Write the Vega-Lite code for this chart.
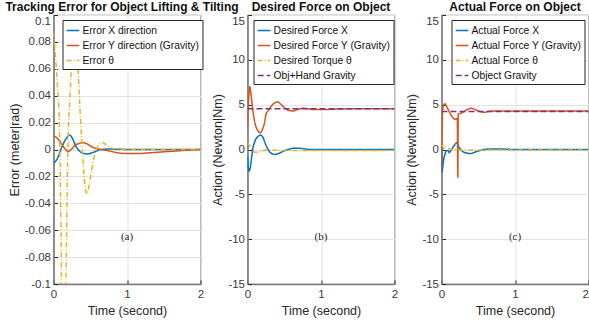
{
  "$schema": "https://vega.github.io/schema/vega-lite/v6.json",
  "background": "white",
  "padding": {"left": 4.5, "top": -1, "right": 0, "bottom": 0},
  "bounds": "flush",
  "spacing": 47,
  "config": {
    "view": {"stroke": "#7a7a7a", "strokeWidth": 1.2},
    "font": "Liberation Sans",
    "title": {"font": "Liberation Sans", "fontSize": 12, "fontWeight": "bold", "color": "#111", "offset": 1, "anchor": "middle"},
    "axis": {
      "labelFont": "Liberation Sans", "labelFontSize": 11.5, "labelColor": "#3a3a3a",
      "titleFont": "Liberation Sans", "titleFontSize": 12.5, "titleFontWeight": "normal", "titleColor": "#262626",
      "gridColor": "#e3e3e3", "gridWidth": 1, "domainColor": "#7a7a7a", "domainWidth": 1.5,
      "tickColor": "#262626", "tickSize": -4, "labelPadding": 7, "labelOverlap": false
    },
    "axisX": {"labelPadding": 8},
    "legend": {
      "labelFont": "Liberation Sans", "labelFontSize": 10.3, "labelColor": "#111",
      "symbolType": "stroke", "symbolSize": 160, "symbolStrokeWidth": 1.6,
      "strokeColor": "#262626", "fillColor": "white", "padding": 3, "rowPadding": 2, "labelOffset": 2
    }
  },
  "resolve": {"scale": {"color": "independent", "strokeDash": "independent", "y": "independent", "x": "independent"}},
  "hconcat": [
    {
      "width": 147, "height": 269,
      "title": {"text": "Tracking Error for Object Lifting & Tilting", "dx": -5},
      "layer": [
        {
          "data": {"values": [
            {"t": 0, "v": -0.0103, "s": "Error X direction"},
            {"t": 0.05, "v": -0.007, "s": "Error X direction"},
            {"t": 0.1, "v": 0.0, "s": "Error X direction"},
            {"t": 0.15, "v": 0.006, "s": "Error X direction"},
            {"t": 0.2, "v": 0.010, "s": "Error X direction"},
            {"t": 0.22, "v": 0.0108, "s": "Error X direction"},
            {"t": 0.26, "v": 0.008, "s": "Error X direction"},
            {"t": 0.3, "v": 0.003, "s": "Error X direction"},
            {"t": 0.35, "v": -0.001, "s": "Error X direction"},
            {"t": 0.4, "v": -0.0028, "s": "Error X direction"},
            {"t": 0.46, "v": -0.0033, "s": "Error X direction"},
            {"t": 0.52, "v": -0.0025, "s": "Error X direction"},
            {"t": 0.58, "v": -0.0012, "s": "Error X direction"},
            {"t": 0.64, "v": 0.0, "s": "Error X direction"},
            {"t": 0.75, "v": 0.0003, "s": "Error X direction"},
            {"t": 0.9, "v": 0.0002, "s": "Error X direction"},
            {"t": 1.0, "v": 0.0, "s": "Error X direction"},
            {"t": 2.0, "v": 0.0, "s": "Error X direction"},
            {"t": 0, "v": 0.0102, "s": "Error Y direction (Gravity)"},
            {"t": 0.05, "v": 0.0085, "s": "Error Y direction (Gravity)"},
            {"t": 0.1, "v": 0.005, "s": "Error Y direction (Gravity)"},
            {"t": 0.15, "v": 0.001, "s": "Error Y direction (Gravity)"},
            {"t": 0.2, "v": -0.0014, "s": "Error Y direction (Gravity)"},
            {"t": 0.25, "v": 0.0005, "s": "Error Y direction (Gravity)"},
            {"t": 0.3, "v": 0.0033, "s": "Error Y direction (Gravity)"},
            {"t": 0.35, "v": 0.0045, "s": "Error Y direction (Gravity)"},
            {"t": 0.41, "v": 0.005, "s": "Error Y direction (Gravity)"},
            {"t": 0.47, "v": 0.0038, "s": "Error Y direction (Gravity)"},
            {"t": 0.53, "v": 0.0017, "s": "Error Y direction (Gravity)"},
            {"t": 0.6, "v": 0.0005, "s": "Error Y direction (Gravity)"},
            {"t": 0.65, "v": 0.0, "s": "Error Y direction (Gravity)"},
            {"t": 0.75, "v": -0.001, "s": "Error Y direction (Gravity)"},
            {"t": 0.85, "v": -0.0022, "s": "Error Y direction (Gravity)"},
            {"t": 1.0, "v": -0.003, "s": "Error Y direction (Gravity)"},
            {"t": 1.15, "v": -0.003, "s": "Error Y direction (Gravity)"},
            {"t": 1.3, "v": -0.0025, "s": "Error Y direction (Gravity)"},
            {"t": 1.5, "v": -0.0017, "s": "Error Y direction (Gravity)"},
            {"t": 1.7, "v": -0.001, "s": "Error Y direction (Gravity)"},
            {"t": 1.85, "v": -0.0004, "s": "Error Y direction (Gravity)"},
            {"t": 2.0, "v": 0.0, "s": "Error Y direction (Gravity)"},
            {"t": 0, "v": 0.087, "s": "Error θ"},
            {"t": 0.02, "v": 0.075, "s": "Error θ"},
            {"t": 0.05, "v": 0.05, "s": "Error θ"},
            {"t": 0.08, "v": 0.018, "s": "Error θ"},
            {"t": 0.1, "v": -0.05, "s": "Error θ"},
            {"t": 0.115, "v": -0.12, "s": "Error θ"},
            {"t": 0.14, "v": -0.16, "s": "Error θ"},
            {"t": 0.165, "v": -0.11, "s": "Error θ"},
            {"t": 0.195, "v": 0.0, "s": "Error θ"},
            {"t": 0.23, "v": 0.045, "s": "Error θ"},
            {"t": 0.26, "v": 0.078, "s": "Error θ"},
            {"t": 0.29, "v": 0.09, "s": "Error θ"},
            {"t": 0.32, "v": 0.075, "s": "Error θ"},
            {"t": 0.354, "v": 0.037, "s": "Error θ"},
            {"t": 0.38, "v": 0.01, "s": "Error θ"},
            {"t": 0.41, "v": -0.015, "s": "Error θ"},
            {"t": 0.43, "v": -0.028, "s": "Error θ"},
            {"t": 0.455, "v": -0.033, "s": "Error θ"},
            {"t": 0.48, "v": -0.028, "s": "Error θ"},
            {"t": 0.52, "v": -0.015, "s": "Error θ"},
            {"t": 0.56, "v": -0.004, "s": "Error θ"},
            {"t": 0.6, "v": 0.002, "s": "Error θ"},
            {"t": 0.67, "v": 0.005, "s": "Error θ"},
            {"t": 0.73, "v": 0.003, "s": "Error θ"},
            {"t": 0.8, "v": 0.001, "s": "Error θ"},
            {"t": 0.9, "v": 0.0, "s": "Error θ"},
            {"t": 2.0, "v": 0.0, "s": "Error θ"}
          ]},
          "mark": {"type": "line", "clip": true, "strokeWidth": 1.5, "interpolate": "monotone"},
          "encoding": {
            "x": {"field": "t", "type": "quantitative", "scale": {"domain": [0, 2], "nice": false},
                  "axis": {"values": [0, 1, 2], "tickCount": 3, "labelExpr": "format(datum.value, '~g')", "title": "Time (second)", "titlePadding": 5, "labelFlush": false}},
            "y": {"field": "v", "type": "quantitative", "scale": {"domain": [-0.1, 0.1], "nice": false},
                  "axis": {"values": [-0.1, -0.08, -0.06, -0.04, -0.02, 0, 0.02, 0.04, 0.06, 0.08, 0.1], "tickCount": 11,
                           "labelExpr": "replace(format(datum.value, '.2~f'), '−', '-')", "labelOverlap": false,
                           "labelBaseline": {"condition": {"test": "datum.value > 0.099", "value": "top"}, "value": "middle"},
                           "title": "Error (meter|rad)", "titlePadding": 3, "labelFlush": false}},
            "color": {"field": "s", "type": "nominal",
                      "scale": {"domain": ["Error X direction", "Error Y direction (Gravity)", "Error θ"], "range": ["#0072BD", "#D95319", "#EDB120"]},
                      "legend": {"title": null, "orient": "none", "legendX": 9, "legendY": 5}},
            "strokeDash": {"field": "s", "type": "nominal",
                      "scale": {"domain": ["Error X direction", "Error Y direction (Gravity)", "Error θ"], "range": [[1, 0], [1, 0], [5, 2, 1, 2]]},
                      "legend": {"title": null, "orient": "none", "legendX": 9, "legendY": 5}}
          }
        },
        {
          "data": {"values": [{"t": 1, "v": -0.065, "label": "(a)"}]},
          "mark": {"type": "text", "font": "Liberation Serif", "fontSize": 11, "color": "#262626"},
          "encoding": {
            "x": {"field": "t", "type": "quantitative"},
            "y": {"field": "v", "type": "quantitative"},
            "text": {"field": "label"}
          }
        }
      ]
    },
    {
      "width": 147, "height": 269,
      "title": "Desired Force on Object",
      "layer": [
        {
          "data": {"values": [
            {"t": 0, "v": -0.8, "s": "Desired Force X"},
            {"t": 0.02, "v": -2.4, "s": "Desired Force X"},
            {"t": 0.035, "v": -2.1, "s": "Desired Force X"},
            {"t": 0.05, "v": -1.3, "s": "Desired Force X"},
            {"t": 0.07, "v": 0.0, "s": "Desired Force X"},
            {"t": 0.1, "v": 0.9, "s": "Desired Force X"},
            {"t": 0.14, "v": 1.45, "s": "Desired Force X"},
            {"t": 0.18, "v": 1.6, "s": "Desired Force X"},
            {"t": 0.21, "v": 1.35, "s": "Desired Force X"},
            {"t": 0.24, "v": 0.7, "s": "Desired Force X"},
            {"t": 0.28, "v": 0.0, "s": "Desired Force X"},
            {"t": 0.32, "v": -0.4, "s": "Desired Force X"},
            {"t": 0.37, "v": -0.55, "s": "Desired Force X"},
            {"t": 0.42, "v": -0.45, "s": "Desired Force X"},
            {"t": 0.5, "v": -0.15, "s": "Desired Force X"},
            {"t": 0.57, "v": 0.05, "s": "Desired Force X"},
            {"t": 0.65, "v": 0.15, "s": "Desired Force X"},
            {"t": 0.75, "v": 0.1, "s": "Desired Force X"},
            {"t": 0.85, "v": 0.0, "s": "Desired Force X"},
            {"t": 1.0, "v": 0.0, "s": "Desired Force X"},
            {"t": 2.0, "v": 0.0, "s": "Desired Force X"},
            {"t": 0, "v": 2.5, "s": "Desired Force Y (Gravity)"},
            {"t": 0.015, "v": 5.5, "s": "Desired Force Y (Gravity)"},
            {"t": 0.03, "v": 7.0, "s": "Desired Force Y (Gravity)"},
            {"t": 0.05, "v": 6.0, "s": "Desired Force Y (Gravity)"},
            {"t": 0.072, "v": 4.4, "s": "Desired Force Y (Gravity)"},
            {"t": 0.1, "v": 3.0, "s": "Desired Force Y (Gravity)"},
            {"t": 0.14, "v": 2.1, "s": "Desired Force Y (Gravity)"},
            {"t": 0.177, "v": 1.85, "s": "Desired Force Y (Gravity)"},
            {"t": 0.2, "v": 2.2, "s": "Desired Force Y (Gravity)"},
            {"t": 0.23, "v": 2.9, "s": "Desired Force Y (Gravity)"},
            {"t": 0.254, "v": 4.0, "s": "Desired Force Y (Gravity)"},
            {"t": 0.28, "v": 4.3, "s": "Desired Force Y (Gravity)"},
            {"t": 0.32, "v": 4.8, "s": "Desired Force Y (Gravity)"},
            {"t": 0.37, "v": 5.2, "s": "Desired Force Y (Gravity)"},
            {"t": 0.41, "v": 5.3, "s": "Desired Force Y (Gravity)"},
            {"t": 0.46, "v": 5.0, "s": "Desired Force Y (Gravity)"},
            {"t": 0.525, "v": 4.5, "s": "Desired Force Y (Gravity)"},
            {"t": 0.57, "v": 4.35, "s": "Desired Force Y (Gravity)"},
            {"t": 0.62, "v": 4.3, "s": "Desired Force Y (Gravity)"},
            {"t": 0.68, "v": 4.45, "s": "Desired Force Y (Gravity)"},
            {"t": 0.75, "v": 4.6, "s": "Desired Force Y (Gravity)"},
            {"t": 0.82, "v": 4.55, "s": "Desired Force Y (Gravity)"},
            {"t": 0.9, "v": 4.45, "s": "Desired Force Y (Gravity)"},
            {"t": 1.0, "v": 4.45, "s": "Desired Force Y (Gravity)"},
            {"t": 1.2, "v": 4.5, "s": "Desired Force Y (Gravity)"},
            {"t": 1.5, "v": 4.55, "s": "Desired Force Y (Gravity)"},
            {"t": 2.0, "v": 4.55, "s": "Desired Force Y (Gravity)"},
            {"t": 0, "v": 0.75, "s": "Desired Torque θ"},
            {"t": 0.03, "v": 0.4, "s": "Desired Torque θ"},
            {"t": 0.07, "v": -0.15, "s": "Desired Torque θ"},
            {"t": 0.1, "v": -0.3, "s": "Desired Torque θ"},
            {"t": 0.15, "v": -0.3, "s": "Desired Torque θ"},
            {"t": 0.2, "v": -0.15, "s": "Desired Torque θ"},
            {"t": 0.3, "v": -0.05, "s": "Desired Torque θ"},
            {"t": 0.5, "v": -0.1, "s": "Desired Torque θ"},
            {"t": 1.0, "v": -0.1, "s": "Desired Torque θ"},
            {"t": 2.0, "v": -0.1, "s": "Desired Torque θ"},
            {"t": 0, "v": 4.55, "s": "Obj+Hand Gravity"},
            {"t": 2.0, "v": 4.55, "s": "Obj+Hand Gravity"}
          ]},
          "mark": {"type": "line", "clip": true, "strokeWidth": 1.5, "interpolate": "monotone"},
          "encoding": {
            "x": {"field": "t", "type": "quantitative", "scale": {"domain": [0, 2], "nice": false},
                  "axis": {"values": [0, 1, 2], "tickCount": 3, "labelExpr": "format(datum.value, '~g')", "title": "Time (second)", "titlePadding": 5, "labelFlush": false}},
            "y": {"field": "v", "type": "quantitative", "scale": {"domain": [-15, 15], "nice": false},
                  "axis": {"values": [-15, -10, -5, 0, 5, 10, 15], "tickCount": 7,
                           "labelExpr": "replace(format(datum.value, '~g'), '−', '-')", "labelOverlap": false,
                           "labelBaseline": {"condition": {"test": "datum.value > 14", "value": "top"}, "value": "middle"},
                           "title": "Action (Newton|Nm)", "titlePadding": 3, "labelFlush": false}},
            "color": {"field": "s", "type": "nominal",
                      "scale": {"domain": ["Desired Force X", "Desired Force Y (Gravity)", "Desired Torque θ", "Obj+Hand Gravity"], "range": ["#0072BD", "#D95319", "#EDB120", "#7E2F8E"]},
                      "legend": {"title": null, "orient": "none", "legendX": 6, "legendY": 5}},
            "strokeDash": {"field": "s", "type": "nominal",
                      "scale": {"domain": ["Desired Force X", "Desired Force Y (Gravity)", "Desired Torque θ", "Obj+Hand Gravity"], "range": [[1, 0], [1, 0], [5, 2, 1, 2], [6, 3]]},
                      "legend": {"title": null, "orient": "none", "legendX": 6, "legendY": 5}}
          }
        },
        {
          "data": {"values": [{"t": 1, "v": -9.8, "label": "(b)"}]},
          "mark": {"type": "text", "font": "Liberation Serif", "fontSize": 11, "color": "#262626"},
          "encoding": {
            "x": {"field": "t", "type": "quantitative"},
            "y": {"field": "v", "type": "quantitative"},
            "text": {"field": "label"}
          }
        }
      ]
    },
    {
      "width": 147, "height": 269,
      "title": "Actual Force on Object",
      "layer": [
        {
          "data": {"values": [
            {"t": 0, "v": 0.6, "s": "Actual Force X"},
            {"t": 0.006, "v": -2.5, "s": "Actual Force X"},
            {"t": 0.027, "v": -1.25, "s": "Actual Force X"},
            {"t": 0.05, "v": -0.43, "s": "Actual Force X"},
            {"t": 0.07, "v": -0.15, "s": "Actual Force X"},
            {"t": 0.09, "v": -0.1, "s": "Actual Force X"},
            {"t": 0.105, "v": -0.35, "s": "Actual Force X"},
            {"t": 0.12, "v": -0.2, "s": "Actual Force X"},
            {"t": 0.16, "v": 0.3, "s": "Actual Force X"},
            {"t": 0.21, "v": 0.75, "s": "Actual Force X"},
            {"t": 0.235, "v": 0.3, "s": "Actual Force X"},
            {"t": 0.26, "v": 0.0, "s": "Actual Force X"},
            {"t": 0.32, "v": -0.35, "s": "Actual Force X"},
            {"t": 0.39, "v": -0.45, "s": "Actual Force X"},
            {"t": 0.47, "v": -0.25, "s": "Actual Force X"},
            {"t": 0.55, "v": -0.05, "s": "Actual Force X"},
            {"t": 0.65, "v": 0.05, "s": "Actual Force X"},
            {"t": 0.8, "v": 0.05, "s": "Actual Force X"},
            {"t": 1.0, "v": 0.0, "s": "Actual Force X"},
            {"t": 2.0, "v": 0.0, "s": "Actual Force X"},
            {"t": 0, "v": -2.3, "s": "Actual Force Y (Gravity)"},
            {"t": 0.015, "v": 4.3, "s": "Actual Force Y (Gravity)"},
            {"t": 0.03, "v": 5.0, "s": "Actual Force Y (Gravity)"},
            {"t": 0.045, "v": 5.1, "s": "Actual Force Y (Gravity)"},
            {"t": 0.07, "v": 4.8, "s": "Actual Force Y (Gravity)"},
            {"t": 0.1, "v": 4.3, "s": "Actual Force Y (Gravity)"},
            {"t": 0.14, "v": 3.7, "s": "Actual Force Y (Gravity)"},
            {"t": 0.186, "v": 3.37, "s": "Actual Force Y (Gravity)"},
            {"t": 0.215, "v": 3.45, "s": "Actual Force Y (Gravity)"},
            {"t": 0.222, "v": -3.1, "s": "Actual Force Y (Gravity)"},
            {"t": 0.228, "v": 3.95, "s": "Actual Force Y (Gravity)"},
            {"t": 0.26, "v": 4.05, "s": "Actual Force Y (Gravity)"},
            {"t": 0.3, "v": 4.2, "s": "Actual Force Y (Gravity)"},
            {"t": 0.35, "v": 4.45, "s": "Actual Force Y (Gravity)"},
            {"t": 0.41, "v": 4.6, "s": "Actual Force Y (Gravity)"},
            {"t": 0.47, "v": 4.4, "s": "Actual Force Y (Gravity)"},
            {"t": 0.52, "v": 4.25, "s": "Actual Force Y (Gravity)"},
            {"t": 0.57, "v": 4.15, "s": "Actual Force Y (Gravity)"},
            {"t": 0.65, "v": 4.25, "s": "Actual Force Y (Gravity)"},
            {"t": 0.75, "v": 4.3, "s": "Actual Force Y (Gravity)"},
            {"t": 1.0, "v": 4.3, "s": "Actual Force Y (Gravity)"},
            {"t": 2.0, "v": 4.3, "s": "Actual Force Y (Gravity)"},
            {"t": 0, "v": 0.5, "s": "Actual Force θ"},
            {"t": 0.02, "v": 0.3, "s": "Actual Force θ"},
            {"t": 0.04, "v": 0.0, "s": "Actual Force θ"},
            {"t": 0.06, "v": 0.2, "s": "Actual Force θ"},
            {"t": 0.1, "v": 0.1, "s": "Actual Force θ"},
            {"t": 0.15, "v": 0.0, "s": "Actual Force θ"},
            {"t": 0.25, "v": -0.05, "s": "Actual Force θ"},
            {"t": 2.0, "v": -0.05, "s": "Actual Force θ"},
            {"t": 0, "v": 4.25, "s": "Object Gravity"},
            {"t": 2.0, "v": 4.25, "s": "Object Gravity"}
          ]},
          "mark": {"type": "line", "clip": true, "strokeWidth": 1.5, "interpolate": "monotone"},
          "encoding": {
            "x": {"field": "t", "type": "quantitative", "scale": {"domain": [0, 2], "nice": false},
                  "axis": {"values": [0, 1, 2], "tickCount": 3, "labelExpr": "format(datum.value, '~g')", "title": "Time (second)", "titlePadding": 5, "labelFlush": false,
                           "labelAlign": {"condition": {"test": "datum.value === 2", "value": "right"}, "value": "center"}}},
            "y": {"field": "v", "type": "quantitative", "scale": {"domain": [-15, 15], "nice": false},
                  "axis": {"values": [-15, -10, -5, 0, 5, 10, 15], "tickCount": 7,
                           "labelExpr": "replace(format(datum.value, '~g'), '−', '-')", "labelOverlap": false,
                           "labelBaseline": {"condition": {"test": "datum.value > 14", "value": "top"}, "value": "middle"},
                           "title": "Action (Newton|Nm)", "titlePadding": 3, "labelFlush": false}},
            "color": {"field": "s", "type": "nominal",
                      "scale": {"domain": ["Actual Force X", "Actual Force Y (Gravity)", "Actual Force θ", "Object Gravity"], "range": ["#0072BD", "#D95319", "#EDB120", "#7E2F8E"]},
                      "legend": {"title": null, "orient": "none", "legendX": 10, "legendY": 5}},
            "strokeDash": {"field": "s", "type": "nominal",
                      "scale": {"domain": ["Actual Force X", "Actual Force Y (Gravity)", "Actual Force θ", "Object Gravity"], "range": [[1, 0], [1, 0], [5, 2, 1, 2], [6, 3]]},
                      "legend": {"title": null, "orient": "none", "legendX": 10, "legendY": 5}}
          }
        },
        {
          "data": {"values": [{"t": 1, "v": -9.8, "label": "(c)"}]},
          "mark": {"type": "text", "font": "Liberation Serif", "fontSize": 11, "color": "#262626"},
          "encoding": {
            "x": {"field": "t", "type": "quantitative"},
            "y": {"field": "v", "type": "quantitative"},
            "text": {"field": "label"}
          }
        }
      ]
    }
  ]
}
